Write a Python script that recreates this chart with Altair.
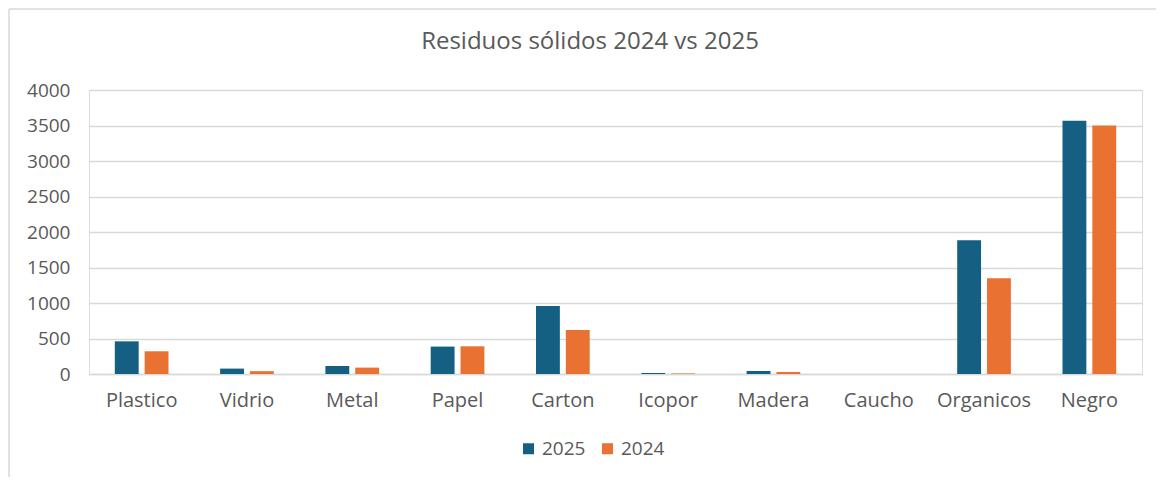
import altair as alt
import pandas as pd

categories = ["Plastico", "Vidrio", "Metal", "Papel", "Carton", "Icopor", "Madera", "Caucho", "Organicos", "Negro"]
v2025 = [460, 76, 113, 386, 958, 14, 42, 0, 1884, 3567]
v2024 = [320, 40, 90, 390, 620, 8, 28, 0, 1349, 3501]
series = ["2025", "2024"]
colors = ["#156082", "#E97132"]
y_ticks = [0, 500, 1000, 1500, 2000, 2500, 3000, 3500, 4000]
title_text = "Residuos sólidos 2024 vs 2025"

rows = []
for c, a, b in zip(categories, v2025, v2024):
    rows.append({"cat": c, "year": "2025", "value": a})
    rows.append({"cat": c, "year": "2024", "value": b})
df = pd.DataFrame(rows)

FONT = "Open Sans"
GREY = "#595959"
W, H = 1053, 284

bars = alt.Chart(df).mark_bar().encode(
    x=alt.X("cat:N", sort=categories, title=None,
            scale=alt.Scale(paddingInner=0.49, paddingOuter=0.245),
            axis=alt.Axis(labelAngle=0, labelFontSize=20, labelColor=GREY, labelFont=FONT,
                          labelPadding=16, ticks=False, domain=True, domainColor="#D9D9D9",
                          domainWidth=1.3, grid=False)),
    xOffset=alt.XOffset("year:N", sort=series, scale=alt.Scale(paddingInner=0.2, paddingOuter=0)),
    y=alt.Y("value:Q", title=None,
            scale=alt.Scale(domain=[0, 4000], nice=False),
            axis=alt.Axis(values=y_ticks, labelFontSize=19, labelColor=GREY, labelFont=FONT,
                          labelPadding=19, ticks=False, domain=False, grid=True,
                          gridColor="#D9D9D9", gridWidth=1.3, format="d")),
    color=alt.Color("year:N", sort=series,
                    scale=alt.Scale(domain=series, range=colors),
                    legend=alt.Legend(title=None, orient="none", direction="horizontal",
                                      legendX=430, legendY=349,
                                      symbolType="square", symbolSize=121, symbolStrokeWidth=0,
                                      labelFontSize=19, labelFont=FONT, labelColor=GREY,
                                      labelOffset=4, columnPadding=12)),
)

title = alt.Chart(pd.DataFrame({"t": [title_text]})).mark_text(
    font=FONT, fontSize=24, color=GREY, baseline="alphabetic", align="center"
).encode(text="t:N", x=alt.value(501), y=alt.value(-41))

border_left = alt.Chart(pd.DataFrame({"a": [0]})).mark_rule(color="#D9D9D9", strokeWidth=1.5).encode(
    x=alt.value(-80), y=alt.value(-81), y2=alt.value(H + 103))
border_top = alt.Chart(pd.DataFrame({"a": [0]})).mark_rule(color="#D9D9D9", strokeWidth=1.5).encode(
    y=alt.value(-81), x=alt.value(-80), x2=alt.value(W + 14))

chart = alt.layer(border_left, border_top, bars, title).properties(
    width=W, height=H,
    autosize=alt.AutoSizeParams(type="none"),
    padding={"left": 81, "top": 82, "right": 14, "bottom": 103},
).configure_view(stroke=None).configure(font=FONT)

chart.save("out.html", embed_options={"renderer": "svg", "actions": False})
